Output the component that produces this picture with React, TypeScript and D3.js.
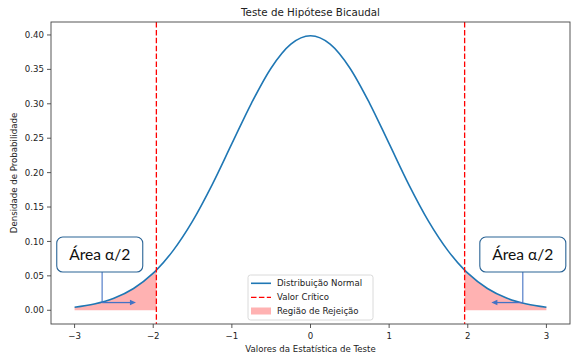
import React from "react";
import * as d3 from "d3";

const xValues = [-3, -2.75, -2.5, -2.25, -2, -1.96, -1.75, -1.5, -1.25, -1, -0.75, -0.5, -0.25, 0, 0.25, 0.5, 0.75, 1, 1.25, 1.5, 1.75, 1.96, 2, 2.25, 2.5, 2.75, 3];
const densityValues = [0.0044, 0.0091, 0.0175, 0.0317, 0.054, 0.0584, 0.0863, 0.1295, 0.1826, 0.242, 0.3011, 0.3521, 0.3867, 0.3989, 0.3867, 0.3521, 0.3011, 0.242, 0.1826, 0.1295, 0.0863, 0.0584, 0.054, 0.0317, 0.0175, 0.0091, 0.0044];
const criticalValues = [-1.96, 1.96];
const xTicks = [-3, -2, -1, 0, 1, 2, 3];
const yTicks = [0, 0.05, 0.1, 0.15, 0.2, 0.25, 0.3, 0.35, 0.4];
const legendLabels = ["Distribuição Normal", "Valor Crítico", "Região de Rejeição"];
const calloutText = "Área α/2";
// callouts: box center (x,y), stem x, stem bottom y, arrow tip x
const calloutBoxX = [-2.68, 2.7];
const calloutBoxY = [0.081, 0.081];
const calloutStemX = [-2.65, 2.7];
const calloutStemY = [0.0112, 0.0112];
const calloutTipX = [-2.22, 2.3];

const W = 586, H = 356;
const L = 51, R = 570, T = 22, B = 324;
const FONT = "DejaVu Sans, sans-serif";

export default function App() {
  const x = d3.scaleLinear().domain([-3.3, 3.3]).range([L, R]);
  const y = d3.scaleLinear().domain([-0.01995, 0.41884]).range([B, T]);
  const pts = xValues.map((v, i) => [v, densityValues[i]] as [number, number]);
  const line = d3.line<[number, number]>().x(d => x(d[0])).y(d => y(d[1])).curve(d3.curveMonotoneX);
  const area = d3.area<[number, number]>().x(d => x(d[0])).y0(y(0)).y1(d => y(d[1])).curve(d3.curveMonotoneX);
  const leftPts = pts.filter(p => p[0] <= criticalValues[0]);
  const rightPts = pts.filter(p => p[0] >= criticalValues[1]);
  const fillColor = "#ffb2b2";
  const boxW = 86, boxH = 35;
  const arrowColor = "#4472c4";
  const fmtMinus = (v: number) => (v < 0 ? "\u2212" + Math.abs(v) : String(v));

  return (
    <svg width={W} height={H} style={{ position: "absolute", left: 0, top: 0, background: "#fff" }}>
      <rect x={0} y={0} width={W} height={H} fill="#fff" />
      <path d={area(leftPts) || ""} fill={fillColor} />
      <path d={area(rightPts) || ""} fill={fillColor} />
      <path d={line(pts) || ""} fill="none" stroke="#1f77b4" strokeWidth={1.6} />
      {criticalValues.map((c, i) => (
        <line key={i} x1={x(c)} x2={x(c)} y1={T} y2={B} stroke="#ff0000" strokeWidth={1.3} strokeDasharray="5.5,2.4" />
      ))}
      {/* spines */}
      <rect x={L} y={T} width={R - L} height={B - T} fill="none" stroke="#444" strokeWidth={0.9} />
      {xTicks.map(t => (
        <g key={t}>
          <line x1={x(t)} x2={x(t)} y1={B} y2={B + 4} stroke="#444" strokeWidth={0.9} />
          <text x={x(t)} y={B + 14.5} textAnchor="middle" fontFamily={FONT} fontSize={8.6} fill="#222">{fmtMinus(t)}</text>
        </g>
      ))}
      {yTicks.map(t => (
        <g key={t}>
          <line x1={L - 4} x2={L} y1={y(t)} y2={y(t)} stroke="#444" strokeWidth={0.9} />
          <text x={L - 7} y={y(t) + 3.1} textAnchor="end" fontFamily={FONT} fontSize={8.6} fill="#222">{t.toFixed(2)}</text>
        </g>
      ))}
      <text x={(L + R) / 2} y={15.5} textAnchor="middle" fontFamily={FONT} fontSize={10.3} fill="#222">Teste de Hipótese Bicaudal</text>
      <text x={(L + R) / 2} y={351.5} textAnchor="middle" fontFamily={FONT} fontSize={8.6} fill="#222">Valores da Estatística de Teste</text>
      <text transform={`translate(16.5,${(T + B) / 2}) rotate(-90)`} textAnchor="middle" fontFamily={FONT} fontSize={8.6} fill="#222">Densidade de Probabilidade</text>
      {/* legend */}
      <g>
        <rect x={248} y={275} width={125} height={45} rx={2.5} fill="#fff" fillOpacity={0.85} stroke="#d0d0d0" strokeWidth={0.8} />
        <line x1={251} x2={271} y1={283.3} y2={283.3} stroke="#1f77b4" strokeWidth={1.6} />
        <line x1={251} x2={271} y1={297.3} y2={297.3} stroke="#ff0000" strokeWidth={1.3} strokeDasharray="5.5,2.4" />
        <rect x={251} y={307.5} width={20} height={7} fill={fillColor} />
        {legendLabels.map((l, i) => (
          <text key={l} x={277} y={286.4 + i * 13.9} fontFamily={FONT} fontSize={8.6} fill="#222">{l}</text>
        ))}
      </g>
      {/* callouts */}
      {calloutBoxX.map((bx, i) => {
        const cx = x(bx), cy = y(calloutBoxY[i]);
        const sx = x(calloutStemX[i]), sy = y(calloutStemY[i]);
        const tx = x(calloutTipX[i]);
        const dir = tx > sx ? 1 : -1;
        return (
          <g key={i}>
            <line x1={sx} x2={sx} y1={cy + boxH / 2} y2={sy} stroke={arrowColor} strokeWidth={1.1} />
            <line x1={sx} x2={tx - dir * 4} y1={sy} y2={sy} stroke={arrowColor} strokeWidth={1.3} />
            <path d={`M${tx},${sy} L${tx - dir * 6},${sy - 2.8} L${tx - dir * 6},${sy + 2.8} Z`} fill={arrowColor} />
            <rect x={cx - boxW / 2} y={cy - boxH / 2} width={boxW} height={boxH} rx={6} fill="#fff" stroke="#2a6496" strokeWidth={1.1} />
            <text x={cx} y={cy + 5.8} textAnchor="middle" fontFamily="Lato, 'Open Sans', sans-serif" fontSize={15.6} fill="#111">{calloutText}</text>
          </g>
        );
      })}
    </svg>
  );
}
